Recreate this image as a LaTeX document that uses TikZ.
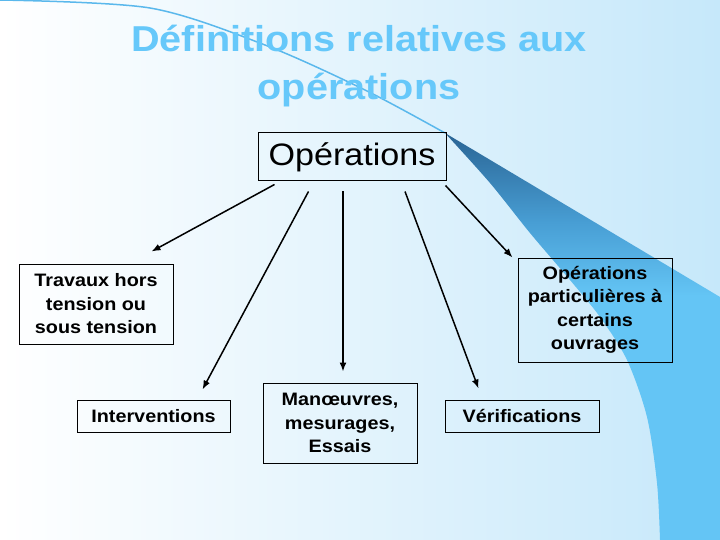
\documentclass[tikz,border=0pt]{standalone}
\usepackage{fontspec}
\setmainfont{Liberation Sans}[FakeStretch=1.1]
\usetikzlibrary{arrows.meta}
\definecolor{titleblue}{RGB}{102,200,250}
\definecolor{bgblue}{RGB}{198,232,250}
\definecolor{banddark}{RGB}{42,100,148}
\definecolor{bandmid}{RGB}{72,158,212}
\definecolor{bandlight}{RGB}{100,197,245}
\definecolor{lineblue}{RGB}{90,184,236}
\pgfdeclareverticalshading{bandshade}{100bp}{color(0bp)=(bandlight); color(55bp)=(bandlight);
  color(64bp)=(bandmid); color(75bp)=(banddark); color(100bp)=(banddark)}

\begin{document}
\begin{tikzpicture}[x=1pt,y=-1pt,
  title/.style={text=titleblue,font=\fontsize{36}{48}\selectfont\bfseries},
  box/.style={draw,line width=1pt,align=center,inner sep=0pt,
    font=\fontsize{18}{23.5}\selectfont\bfseries},
  arr/.style={line width=1.5pt,-{Latex[length=9pt,width=7pt]}}]

\useasboundingbox (0,0) rectangle (720,540);
\shade[left color=white,right color=bgblue] (0,0) rectangle (720,540);
\shade[shading=bandshade]
  (445,133) -- (720,297) -- (720,540) -- (660,540)
  -- plot[smooth] coordinates {(660,540) (657,483) (647,417) (627,360) (600,317) (570,280) (530,233) (490,183) (445,133)} -- cycle;
\draw[lineblue,line width=1.5pt] plot[smooth] coordinates {(0,0) (150,8) (265,45) (365,90) (445,133)};

\node[title,anchor=base] (title) at (359,52) {Définitions relatives aux};
\node[title,anchor=base] (title2) at (359,100) {opérations};

\node[draw,line width=1pt,minimum width=188,minimum height=48,font=\fontsize{31}{36}\selectfont] (ops) at (352,157) {Opérations};

\node[box,minimum width=154,minimum height=80] (trav) at (96,304) {Travaux hors\\tension ou\\sous tension};
\node[box,minimum width=153,minimum height=32] (interv) at (153.5,416) {Interventions};
\node[box,minimum width=154,minimum height=80] (manoeuv) at (340,423) {Manœuvres,\\mesurages,\\Essais};
\node[box,minimum width=154,minimum height=32] (verif) at (522,416) {Vérifications};
\node[box,minimum width=154,minimum height=104] (partic) at (595,310) {Opérations\\particulières à\\certains\\ouvrages};

\draw[arr] ([shift={(17,3)}]ops.south west) -- ([shift={(-22,-12)}]trav.north east);
\draw[arr] ([shift={(51,10)}]ops.south west) -- ([shift={(-28,-10)}]interv.north east);
\draw[arr] ([shift={(-9,10)}]ops.south) -- ([shift={(3,-11)}]manoeuv.north);
\draw[arr] ([shift={(53,10)}]ops.south) -- ([shift={(34,-11)}]verif.north west);
\draw[arr] ([shift={(-1,4)}]ops.south east) -- ([shift={(-5,0)}]partic.north west);

\end{tikzpicture}
\end{document}
